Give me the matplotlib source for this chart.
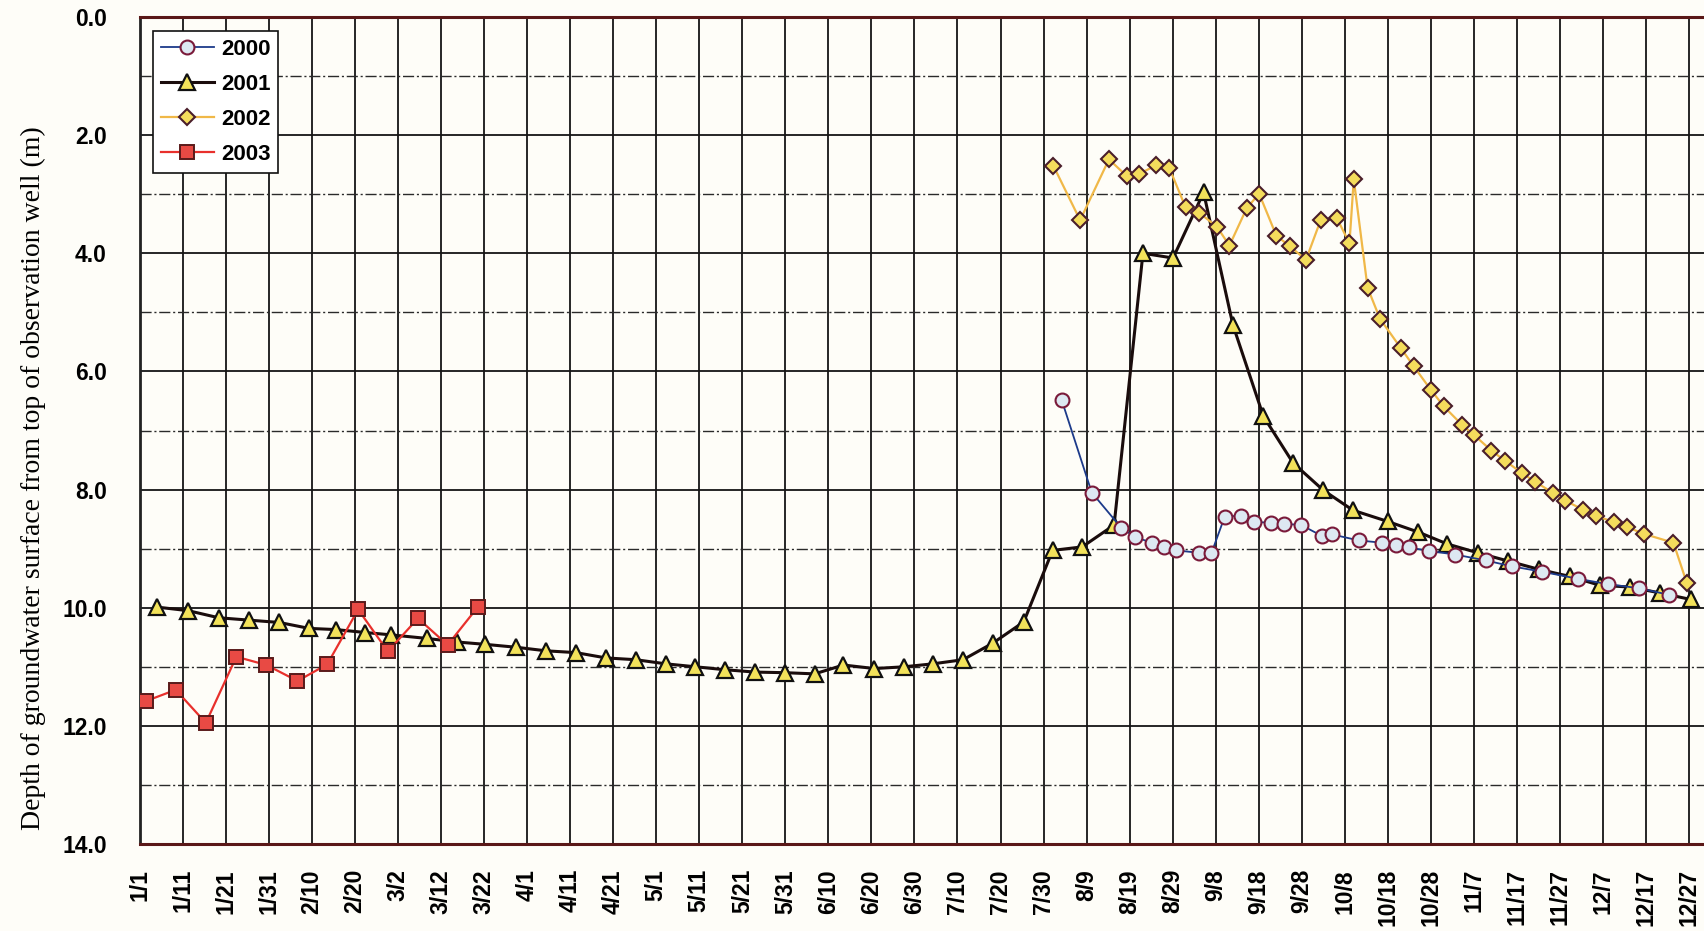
import matplotlib
matplotlib.use("Agg")
import matplotlib.pyplot as plt
from matplotlib.ticker import MultipleLocator

plt.rcParams['font.family'] = ['Liberation Sans', 'DejaVu Sans']

# day of year (0 = 1/1) and depth of groundwater (m)
days_2000 = [214.2, 221.2, 228.1, 231.2, 235.1, 238.0, 240.9, 246.1, 249.0, 252.1,
             255.9, 259.0, 262.9, 265.9, 269.9, 274.8, 277.1, 283.2, 288.6, 291.8,
             294.9, 299.7, 305.7, 312.8, 318.9, 325.8, 334.2, 341.1, 348.4, 355.3]
depth_2000 = [6.48, 8.05, 8.65, 8.80, 8.90, 8.97, 9.03, 9.07, 9.08, 8.46,
              8.44, 8.55, 8.56, 8.58, 8.60, 8.79, 8.76, 8.86, 8.90, 8.94,
              8.98, 9.04, 9.10, 9.20, 9.30, 9.39, 9.51, 9.60, 9.67, 9.78]

days_2001 = [4.0, 11.2, 18.3, 25.3, 32.4, 39.3, 45.5, 52.4, 58.4, 66.7,
             73.6, 80.2, 87.5, 94.4, 101.3, 108.3, 115.2, 122.2, 129.1, 136.0,
             143.0, 149.9, 156.8, 163.5, 170.7, 177.6, 184.3, 191.3, 198.2, 205.4,
             212.1, 219.0, 226.4, 233.1, 240.1, 247.2, 254.0, 261.1, 268.0, 275.0,
             281.9, 290.0, 297.1, 303.8, 310.9, 318.0, 325.1, 332.3, 339.3, 346.2,
             353.3, 360.4]
depth_2001 = [9.99, 10.05, 10.17, 10.21, 10.25, 10.35, 10.37, 10.42, 10.46, 10.52,
              10.58, 10.62, 10.67, 10.73, 10.76, 10.85, 10.88, 10.95, 11.00, 11.05,
              11.09, 11.10, 11.12, 10.97, 11.03, 11.00, 10.95, 10.88, 10.60, 10.24,
              9.03, 8.97, 8.60, 4.00, 4.08, 2.97, 5.21, 6.76, 7.55, 8.01,
              8.35, 8.54, 8.72, 8.92, 9.07, 9.21, 9.35, 9.47, 9.62, 9.65,
              9.75, 9.86]

days_2002 = [212.3, 218.5, 225.2, 229.3, 232.1, 236.2, 239.2, 243.0, 246.1, 250.3,
             253.2, 257.2, 260.1, 264.1, 267.2, 271.0, 274.4, 278.2, 281.1, 282.1,
             285.3, 288.2, 293.0, 296.0, 300.0, 303.0, 307.2, 310.1, 314.1, 317.2,
             321.2, 324.3, 328.5, 331.3, 335.4, 338.3, 342.5, 345.5, 349.5, 356.4,
             359.5]
depth_2002 = [2.52, 3.44, 2.41, 2.69, 2.66, 2.51, 2.55, 3.22, 3.31, 3.55,
              3.87, 3.24, 2.99, 3.70, 3.88, 4.11, 3.44, 3.41, 3.83, 2.75,
              4.58, 5.11, 5.60, 5.91, 6.31, 6.59, 6.90, 7.08, 7.34, 7.51,
              7.72, 7.87, 8.06, 8.19, 8.34, 8.44, 8.55, 8.63, 8.75, 8.90,
              9.58]

days_2003 = [1.4, 8.3, 15.3, 22.4, 29.4, 36.6, 43.5, 50.7, 57.6, 64.6, 71.5, 78.5]
depth_2003 = [11.58, 11.39, 11.95, 10.83, 10.97, 11.24, 10.96, 10.03, 10.74, 10.18, 10.63, 9.99]

tick_days = list(range(0, 361, 10))
tick_labels = ['1/1', '1/11', '1/21', '1/31', '2/10', '2/20', '3/2', '3/12', '3/22',
               '4/1', '4/11', '4/21', '5/1', '5/11', '5/21', '5/31', '6/10', '6/20',
               '6/30', '7/10', '7/20', '7/30', '8/9', '8/19', '8/29', '9/8', '9/18',
               '9/28', '10/8', '10/18', '10/28', '11/7', '11/17', '11/27', '12/7',
               '12/17', '12/27']
depth_ticks = [0, 2, 4, 6, 8, 10, 12, 14]

fig = plt.figure(figsize=(17.04, 9.31), dpi=100)
fig.patch.set_facecolor('#fefdf8')
ax = fig.add_axes([140 / 1704, 1 - 844 / 931, 1 - 140 / 1704, 827 / 931])
ax.set_facecolor('#fefdf8')

ax.plot(days_2000, depth_2000, color='#1c3a8a', lw=1.3, marker='o', ms=10,
        mfc='#dde8f2', mec='#7a1a3a', mew=1.5, label='2000', zorder=4)
ax.plot(days_2001, depth_2001, color='#1a0c0c', lw=2.2, marker='^', ms=11,
        mfc='#f2e25a', mec='#111111', mew=1.6, label='2001', zorder=3)
ax.plot(days_2002, depth_2002, color='#f0b848', lw=1.6, marker='D', ms=8,
        mfc='#f4dc5c', mec='#4a1e2a', mew=1.5, label='2002', zorder=5)
ax.plot(days_2003, depth_2003, color='#e8302c', lw=1.6, marker='s', ms=10,
        mfc='#e84a44', mec='#5a1a1a', mew=1.4, label='2003', zorder=5)

ax.set_xlim(0, 363.5)
ax.set_ylim(14, 0)
ax.set_xticks(tick_days)
ax.set_xticklabels(tick_labels, rotation=90, fontsize=16.5, fontweight='bold')
ax.yaxis.set_minor_locator(MultipleLocator(1))
ax.set_yticks(depth_ticks)
ax.set_yticklabels(['%.1f' % v for v in depth_ticks], fontsize=16.5, fontweight='bold')
ax.tick_params(axis='both', which='both', length=0)
ax.tick_params(axis='y', pad=24)
ax.tick_params(axis='x', pad=18)

ax.grid(axis='x', which='major', color='#151515', lw=1.3)
ax.grid(axis='y', which='major', color='#151515', lw=1.3)
ax.grid(axis='y', which='minor', color='#2a2a2a', lw=1.0, linestyle=(0, (8, 2, 1.5, 2)))
ax.set_axisbelow(True)

for side in ['top', 'bottom']:
    ax.spines[side].set_color('#5a1818')
    ax.spines[side].set_linewidth(2.2)
ax.spines['left'].set_color('#222222')
ax.spines['left'].set_linewidth(2)
ax.spines['right'].set_visible(False)

fig.text(33 / 1704, 1 - 478 / 931,
         'Depth of groundwater surface from top of observation well (m)',
         rotation=90, ha='center', va='center', fontsize=20,
         family=['Liberation Serif', 'DejaVu Serif'])

leg = ax.legend(loc='upper left', bbox_to_anchor=(13 / 1564, 1 - 14 / 827),
                borderaxespad=0, fancybox=False, framealpha=1,
                edgecolor='#111111', handlelength=2.4, handletextpad=0.3,
                labelspacing=0.63, borderpad=0.35,
                prop={'weight': 'bold', 'size': 16})
leg.get_frame().set_linewidth(1.2)

fig.savefig('out.png', dpi=100, facecolor=fig.get_facecolor())
